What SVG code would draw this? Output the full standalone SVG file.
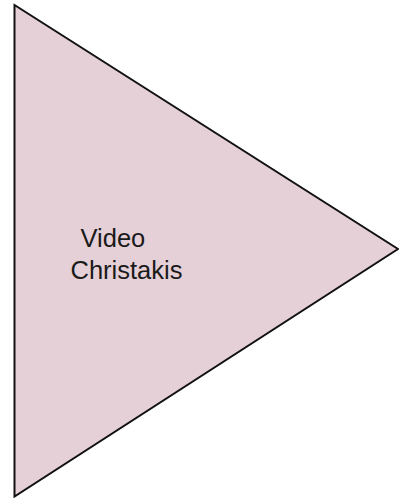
<svg xmlns="http://www.w3.org/2000/svg" width="399" height="498" viewBox="0 0 399 498">
<style>
.shape{fill:#e6d0d8;stroke:#111;stroke-width:2;stroke-linejoin:miter}
.lbl{font-family:"Liberation Sans",Arial,sans-serif;font-size:25.5px;fill:#1a1a1a}
</style>
<g id="node-video">
<polygon class="shape" points="14.5,5 14.5,496.5 398,249"/>
<text class="lbl" x="80.5" y="247">Video</text>
<text class="lbl" x="70.5" y="279">Christakis</text>
</g>
<g id="connectors"/>
</svg>
